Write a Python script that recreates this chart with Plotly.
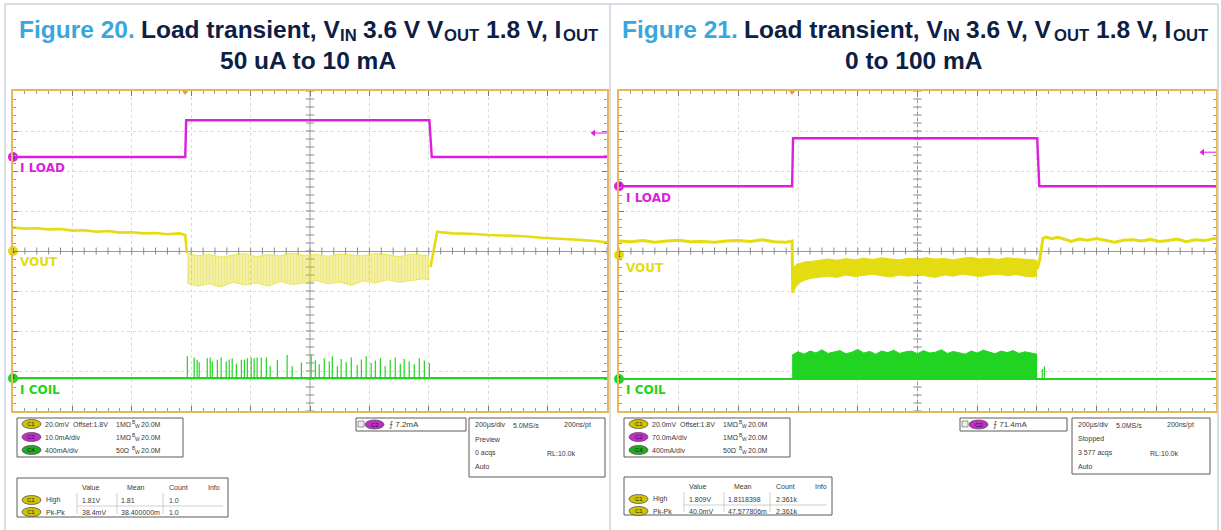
import plotly.graph_objects as go

W, H = 1221, 530

# ---------------- data (time in µs from trigger, level in screen divisions) ----------------
# Figure 20
iload20_t = [-580, 0, 3, 822, 830, 1420]
iload20_v = [2.35, 2.35, 3.27, 3.27, 2.35, 2.35]

vout20_pre_t = [-580, -540, -500, -460, -420, -380, -340, -300, -260, -220, -180, -140, -100, -60, -20, 0, 5]
vout20_pre_v = [0.58, 0.56, 0.57, 0.54, 0.55, 0.51, 0.52, 0.48, 0.50, 0.46, 0.47, 0.44, 0.45, 0.42, 0.44, 0.40, -0.05]
vout20_band_t = [6, 40, 80, 120, 160, 200, 240, 280, 320, 360, 400, 440, 480, 520, 560, 600, 640, 680, 720, 760, 800, 822]
vout20_band_hi = [-0.05, -0.12, -0.08, -0.15, -0.10, -0.06, -0.14, -0.09, -0.12, -0.05, -0.11, -0.08, -0.13, -0.07, -0.10,
                  -0.12, -0.06, -0.09, -0.14, -0.08, -0.10, -0.12]
vout20_band_lo = [-0.80, -0.88, -0.82, -0.90, -0.78, -0.85, -0.80, -0.88, -0.76, -0.84, -0.80, -0.74, -0.82, -0.78, -0.86,
                  -0.75, -0.80, -0.72, -0.78, -0.74, -0.70, -0.72]
vout20_post_t = [826, 840, 848, 900, 960, 1020, 1080, 1140, 1200, 1260, 1320, 1380, 1420]
vout20_post_v = [-0.40, 0.15, 0.48, 0.44, 0.43, 0.40, 0.38, 0.37, 0.33, 0.31, 0.28, 0.25, 0.22]

icoil20_base = -3.18
icoil20_spike_t = [7, 30, 40, 47, 74, 84, 91, 108, 121, 138, 148, 158, 172, 189, 199, 209, 222, 232, 242, 256, 273, 286,
                   310, 343, 360, 391, 424, 438, 451, 468, 485, 495, 512, 525, 542, 559, 579, 593, 609, 626, 640, 657,
                   673, 690, 707, 724, 737, 754, 771, 788, 805, 822]
icoil20_spike_h = [0.55, 0.52, 0.46, 0.40, 0.50, 0.52, 0.42, 0.46, 0.52, 0.42, 0.47, 0.50, 0.36, 0.46, 0.47, 0.50, 0.52,
                   0.50, 0.52, 0.52, 0.52, 0.30, 0.46, 0.58, 0.30, 0.39, 0.58, 0.45, 0.35, 0.50, 0.42, 0.55, 0.30, 0.48,
                   0.40, 0.52, 0.33, 0.47, 0.55, 0.38, 0.44, 0.50, 0.30, 0.46, 0.52, 0.36, 0.48, 0.42, 0.35, 0.50, 0.44, 0.38]

# Figure 21
iload21_t = [-580, 0, 3, 821, 828, 1420]
iload21_v = [1.62, 1.62, 2.82, 2.82, 1.62, 1.62]

vout21_pre_t = [-580, -540, -500, -460, -420, -380, -340, -300, -260, -220, -180, -140, -100, -60, -20, 0]
vout21_pre_v = [0.25, 0.23, 0.26, 0.22, 0.25, 0.27, 0.23, 0.24, 0.22, 0.25, 0.26, 0.24, 0.28, 0.23, 0.22, 0.25]
vout21_band_t = [2, 8, 16, 28, 45, 65, 90, 120, 150, 180, 210, 240, 270, 300, 330, 360, 390, 420, 450, 480, 510, 540,
                 570, 600, 630, 660, 690, 720, 750, 780, 810, 821]
vout21_band_hi = [-0.40, -0.38, -0.33, -0.30, -0.27, -0.26, -0.24, -0.20, -0.23, -0.19, -0.22, -0.18, -0.21, -0.17,
                  -0.20, -0.22, -0.18, -0.21, -0.17, -0.20, -0.19, -0.22, -0.18, -0.16, -0.20, -0.18, -0.21, -0.17,
                  -0.19, -0.20, -0.22, -0.25]
vout21_band_lo = [-1.05, -0.95, -0.85, -0.78, -0.72, -0.68, -0.66, -0.63, -0.66, -0.60, -0.64, -0.61, -0.58, -0.62,
                  -0.65, -0.60, -0.63, -0.59, -0.62, -0.66, -0.60, -0.63, -0.58, -0.61, -0.64, -0.60, -0.58, -0.62,
                  -0.59, -0.63, -0.65, -0.62]
vout21_post_t = [821, 830, 840, 850, 870, 890, 910, 935, 960, 990, 1020, 1050, 1080, 1110, 1140, 1170, 1200, 1230,
                 1260, 1290, 1320, 1350, 1380, 1420]
vout21_post_v = [-0.45, -0.20, 0.32, 0.35, 0.31, 0.34, 0.30, 0.24, 0.30, 0.27, 0.31, 0.26, 0.22, 0.27, 0.28, 0.25,
                 0.29, 0.24, 0.26, 0.30, 0.23, 0.28, 0.26, 0.32]

icoil21_base = -3.2
icoil21_band_t = [0, 20, 40, 60, 80, 100, 120, 140, 160, 180, 200, 220, 240, 260, 280, 300, 320, 340, 360, 380, 400,
                  420, 440, 460, 480, 500, 520, 540, 560, 580, 600, 620, 640, 660, 680, 700, 720, 740, 760, 780, 800, 821]
icoil21_band_top = [-2.60, -2.52, -2.58, -2.50, -2.55, -2.47, -2.56, -2.52, -2.49, -2.57, -2.53, -2.46, -2.55, -2.51,
                    -2.58, -2.50, -2.54, -2.48, -2.56, -2.52, -2.50, -2.57, -2.49, -2.55, -2.53, -2.47, -2.56, -2.51,
                    -2.54, -2.58, -2.50, -2.55, -2.48, -2.53, -2.57, -2.50, -2.54, -2.49, -2.56, -2.52, -2.55, -2.58]
icoil21_spike_t = [838, 845]
icoil21_spike_h = [0.25, 0.32]

trig_level20 = 2.95
trig_level21 = 2.47

# title pieces: (text, kind) kind: "num" blue, "main" navy, "sub" subscript
title20_l1 = [("Figure 20.", "num"), (" Load transient, V", "main"), ("IN", "sub"), (" 3.6 V V", "main"),
              ("OUT", "sub"), (" 1.8 V, I", "main"), ("OUT", "sub")]
title20_l2 = "50 uA to 10 mA"
title21_l1 = [("Figure 21.", "num"), (" Load transient, V", "main"), ("IN", "sub"), (" 3.6 V, V", "main"),
              ("OUT", "sub"), (" 1.8 V, I", "main"), ("OUT", "sub")]
title21_l2 = "0 to 100 mA"

info20 = dict(ch=["20.0mV  Offset:1.8V", "10.0mA/div", "400mA/div"],
              imp=["1MΩ", "1MΩ", "50Ω"], trig="7.2mA",
              tb=["200µs/div", "5.0MS/s", "200ns/pt"], state="Preview", acqs="0 acqs",
              meas=[("High", "1.81V", "1.81", "1.0"), ("Pk-Pk", "38.4mV", "38.400000m", "1.0")])
info21 = dict(ch=["20.0mV  Offset:1.8V", "70.0mA/div", "400mA/div"],
              imp=["1MΩ", "1MΩ", "50Ω"], trig="71.4mA",
              tb=["200µs/div", "5.0MS/s", "200ns/pt"], state="Stopped", acqs="3 577 acqs",
              meas=[("High", "1.809V", "1.8118398", "2.361k"), ("Pk-Pk", "40.0mV", "47.577806m", "2.361k")])

# ---------------- styling ----------------
MAG = "#dc1fdc"
YEL = "#e4dc10"
GRN = "#22d422"
ORANGE = "#e8b65c"
FONT = "Liberation Sans"
NAVY = "#0d2044"
BLUE = "#3aa7dc"

# Arial/Liberation Sans Bold advance widths (1/1000 em) for title layout
BOLD_W = {" ": 278, ",": 278, ".": 278, "0": 556, "1": 556, "2": 556, "3": 556, "4": 556, "5": 556, "6": 556,
          "7": 556, "8": 556, "9": 556, "F": 611, "I": 278, "L": 611, "N": 722, "O": 778, "T": 611, "U": 722,
          "V": 667, "a": 556, "d": 611, "e": 556, "g": 611, "i": 278, "n": 611, "o": 611, "r": 389, "s": 556,
          "t": 333, "u": 611}


def text_w(s, size):
    return sum(BOLD_W.get(c, 556) for c in s) * size / 1000.0


def px(x):
    return x / W


def py(y):
    return 1 - y / H


fig = go.Figure()

panels = [
    dict(xa="x", ya="y", off=0, x0=13, x1=607),
    dict(xa="x2", ya="y2", off=610, x0=619, x1=1216),
]
Y0, Y1 = 91, 411
TMIN, TMAX = -580, 1420
TCEN = 420


def add(tr, p):
    tr.update(xaxis=p["xa"], yaxis=p["ya"], showlegend=False, hoverinfo="skip")
    fig.add_trace(tr)


for i, p in enumerate(panels):
    add(go.Scatter(x=[TMIN + 40 * k for k in range(51)], y=[0] * 51, mode="markers",
                   marker=dict(symbol="line-ns", size=5, line=dict(color="#8a8a8a", width=1))), p)
    add(go.Scatter(x=[TCEN] * 41, y=[-4 + 0.2 * k for k in range(41)], mode="markers",
                   marker=dict(symbol="line-ew", size=6, line=dict(color="#8a8a8a", width=1))), p)

# ---- Figure 20 traces
p = panels[0]
add(go.Scatter(x=iload20_t, y=iload20_v, mode="lines", line=dict(color=MAG, width=2.4)), p)
add(go.Scatter(x=vout20_pre_t, y=vout20_pre_v, mode="lines", line=dict(color=YEL, width=2.6)), p)
add(go.Scatter(x=vout20_band_t, y=vout20_band_lo, mode="lines", line=dict(color=YEL, width=0.6)), p)
add(go.Scatter(x=vout20_band_t, y=vout20_band_hi, mode="lines", line=dict(color=YEL, width=0.6), fill="tonexty",
               fillcolor="rgba(228,220,16,0.45)",
               fillpattern=dict(shape="|", size=3, solidity=0.8, fgcolor="#dcd200", bgcolor="rgba(0,0,0,0)")), p)
add(go.Scatter(x=vout20_post_t, y=vout20_post_v, mode="lines", line=dict(color=YEL, width=2.6)), p)
add(go.Scatter(x=[TMIN, TMAX], y=[icoil20_base, icoil20_base], mode="lines", line=dict(color=GRN, width=2.2)), p)
sx, sy = [], []
for t, h in zip(icoil20_spike_t, icoil20_spike_h):
    sx += [t, t, None]
    sy += [icoil20_base, icoil20_base + h, None]
add(go.Scatter(x=sx, y=sy, mode="lines", line=dict(color=GRN, width=1.2)), p)

# ---- Figure 21 traces
p = panels[1]
add(go.Scatter(x=iload21_t, y=iload21_v, mode="lines", line=dict(color=MAG, width=2.4)), p)
add(go.Scatter(x=vout21_pre_t + [vout21_band_t[0]], y=vout21_pre_v + [vout21_band_lo[0]], mode="lines",
               line=dict(color=YEL, width=3)), p)
add(go.Scatter(x=vout21_band_t, y=vout21_band_lo, mode="lines", line=dict(color=YEL, width=1)), p)
add(go.Scatter(x=vout21_band_t, y=vout21_band_hi, mode="lines", line=dict(color=YEL, width=1), fill="tonexty",
               fillcolor=YEL), p)
add(go.Scatter(x=vout21_post_t, y=vout21_post_v, mode="lines", line=dict(color=YEL, width=3)), p)
add(go.Scatter(x=[TMIN, TMAX], y=[icoil21_base, icoil21_base], mode="lines", line=dict(color=GRN, width=2.2)), p)
add(go.Scatter(x=icoil21_band_t, y=[icoil21_base] * len(icoil21_band_t), mode="lines", line=dict(color=GRN, width=0)), p)
add(go.Scatter(x=icoil21_band_t, y=icoil21_band_top, mode="lines", line=dict(color=GRN, width=1), fill="tonexty",
               fillcolor=GRN), p)
sx, sy = [], []
for t, h in zip(icoil21_spike_t, icoil21_spike_h):
    sx += [t, t, None]
    sy += [icoil21_base, icoil21_base + h, None]
add(go.Scatter(x=sx, y=sy, mode="lines", line=dict(color=GRN, width=1.2)), p)

# ---- channel markers, trigger markers
for p, lv, tl in [(panels[0], (2.35, 0.0, icoil20_base), trig_level20),
                  (panels[1], (1.62, -0.1, icoil21_base), trig_level21)]:
    add(go.Scatter(x=[TMIN] * 3, y=list(lv), mode="markers+text", text=["2", "1", "4"],
                   textfont=dict(size=7, color="#333", family=FONT), cliponaxis=False,
                   marker=dict(size=10, color=[MAG, YEL, GRN])), p)
    add(go.Scatter(x=[0], y=[4], mode="markers", cliponaxis=False,
                   marker=dict(symbol="triangle-down", size=8, color="#e0a030")), p)
    add(go.Scatter(x=[1372, TMAX], y=[tl, tl], mode="lines", line=dict(color=MAG, width=1)), p)
    add(go.Scatter(x=[1375], y=[tl], mode="markers", marker=dict(symbol="triangle-left", size=6, color=MAG)), p)

# ---------------- axes ----------------
layout_axes = {}
for i, p in enumerate(panels):
    suf = "" if i == 0 else "2"
    layout_axes["xaxis" + suf] = dict(
        domain=[px(p["x0"]), px(p["x1"])], range=[TMIN, TMAX], anchor="y" + suf,
        showgrid=True, gridcolor="#dadada", griddash="dot", gridwidth=1,
        tick0=20, dtick=200, ticks="inside", ticklen=5, tickcolor="#7a7a7a",
        showticklabels=False, showline=True, linecolor=ORANGE, linewidth=2, mirror="ticks",
        zeroline=False, fixedrange=True,
        minor=dict(ticks="inside", ticklen=3, dtick=40, tick0=20, tickcolor="#9a9a9a", showgrid=False))
    layout_axes["yaxis" + suf] = dict(
        domain=[py(Y1), py(Y0)], range=[-4, 4], anchor="x" + suf,
        showgrid=True, gridcolor="#dadada", griddash="dot", gridwidth=1,
        tick0=0, dtick=1, ticks="inside", ticklen=5, tickcolor="#7a7a7a",
        showticklabels=False, showline=True, linecolor=ORANGE, linewidth=2, mirror="ticks",
        zeroline=True, zerolinecolor="#9a9a9a", zerolinewidth=1, fixedrange=True,
        minor=dict(ticks="inside", ticklen=3, dtick=0.2, tick0=0, tickcolor="#9a9a9a", showgrid=False))

shapes = []
annotations = []

# page frame
BC = "#c8d2db"
for (a, b, c, d) in [(5, 4, 1218, 4), (5, 4, 5, 530), (610, 4, 610, 530), (1218, 4, 1218, 530)]:
    shapes.append(dict(type="line", xref="paper", yref="paper", x0=px(a), y0=py(b), x1=px(c), y1=py(d),
                       line=dict(color=BC, width=1.5)))

for i, p in enumerate(panels):
    suf = "" if i == 0 else "2"
    shapes.append(dict(type="line", xref="x" + suf, yref="y" + suf, x0=TCEN, x1=TCEN, y0=-4, y1=4,
                       line=dict(color="#9a9a9a", width=1), layer="below"))

# titles (line 1 laid out piecewise so subscripts are plain texts)
TF = 24.5
SF = TF * 0.68
for cx, pieces, l2 in [(307.5, title20_l1, title20_l2), (914, title21_l1, title21_l2)]:
    widths = [text_w(s, SF if k == "sub" else TF) for s, k in pieces]
    x = cx - sum(widths) / 2
    for (s, k), w in zip(pieces, widths):
        lead = len(s) - len(s.lstrip(" "))
        xs = x + lead * 278 * TF / 1000.0
        if k == "sub":
            ys, size, col = 35.8, SF, NAVY
        else:
            ys, size, col = 30, TF, BLUE if k == "num" else NAVY
        annotations.append(dict(xref="paper", yref="paper", x=px(xs), y=py(ys), xanchor="left", yanchor="middle",
                                showarrow=False, text=f"<b>{s.strip()}</b>", borderpad=0,
                                font=dict(family=FONT, size=size, color=col)))
        x += w
    annotations.append(dict(xref="paper", yref="paper", x=px(cx), y=py(60.5), xanchor="center", yanchor="middle",
                            showarrow=False, text=f"<b>{l2}</b>", borderpad=0,
                            font=dict(family=FONT, size=TF, color=NAVY)))

# channel labels
for p, ys in [(panels[0], (168, 262, 390)), (panels[1], (198, 268, 390))]:
    for t_, yy, col in zip(["I LOAD", "VOUT", "I COIL"], ys, [MAG, YEL, GRN]):
        annotations.append(dict(xref="paper", yref="paper", x=px(p["x0"] + 5), y=py(yy), xanchor="left",
                                yanchor="middle", showarrow=False, text=f"<b>{t_}</b>",
                                font=dict(family="DejaVu Sans", size=12, color=col)))


def box(x0, y0, x1, y1):
    shapes.append(dict(type="rect", xref="paper", yref="paper", x0=px(x0), y0=py(y0), x1=px(x1), y1=py(y1),
                       line=dict(color="#5a5a5a", width=1), fillcolor="white"))


def txt(x, y, s, size=7, color="#3a3a3a", anchor="left"):
    annotations.append(dict(xref="paper", yref="paper", x=px(x), y=py(y), xanchor=anchor, yanchor="middle",
                            showarrow=False, text=s, font=dict(family=FONT, size=size, color=color)))


def pill(x, y, col, label):
    shapes.append(dict(type="circle", xref="paper", yref="paper", x0=px(x), x1=px(x + 19), y0=py(y - 4.5),
                       y1=py(y + 4.5), fillcolor=col, line=dict(color="#555", width=0.8)))
    txt(x + 9.5, y, label, size=6, color="#222", anchor="center")


def bw(x, y):
    txt(x, y - 2, "B", size=5)
    txt(x + 3, y + 2, "W", size=5)
    txt(x + 9, y, "20.0M")


PILLC = ["#cfc400", "#c52cc5", "#1faa1f"]
for info, off, bA, bB, bC, bD in [
        (info20, 0, (17, 418, 183, 457), (356, 418, 466, 431), (469, 418, 605, 477), (17, 478, 228, 517)),
        (info21, 610, (624, 418, 790, 457), (960, 418, 1067, 431), (1072, 418, 1210, 474), (624, 477, 832, 515))]:
    box(*bA)
    rows = [424, 437, 450]
    for k in range(3):
        pill(bA[0] + 5, rows[k], PILLC[k], ["C1", "C2", "C4"][k])
        txt(bA[0] + 26, rows[k], info["ch"][k])
        txt(bA[0] + 97, rows[k], info["imp"][k])
        bw(bA[0] + 113, rows[k])
    box(*bB)
    shapes.append(dict(type="rect", xref="paper", yref="paper", x0=px(bB[0] + 2), x1=px(bB[0] + 8),
                       y0=py(bB[1] + 9), y1=py(bB[1] + 3), line=dict(color="#555", width=0.6), fillcolor="#eee"))
    pill(bB[0] + 9, (bB[1] + bB[3]) / 2, PILLC[1], "C2")
    txt(bB[0] + 31, (bB[1] + bB[3]) / 2, "⨍ " + info["trig"], size=8)
    box(*bC)
    cy = [425, 439, 453, 466]
    txt(bC[0] + 4, cy[0], info["tb"][0])
    txt(bC[0] + 42, cy[0], info["tb"][1])
    txt(bC[0] + 93, cy[0], info["tb"][2])
    txt(bC[0] + 4, cy[1], info["state"])
    txt(bC[0] + 4, cy[2], info["acqs"])
    txt(bC[0] + 76, cy[2], "RL:10.0k")
    txt(bC[0] + 4, cy[3], "Auto")
    box(*bD)
    dx = bD[0]
    txt(dx + 63, bD[1] + 9, "Value")
    txt(dx + 108, bD[1] + 9, "Mean")
    txt(dx + 150, bD[1] + 9, "Count")
    txt(dx + 189, bD[1] + 9, "Info")
    for r, (nm, v, m, c) in enumerate(info["meas"]):
        yy = bD[1] + 22 + 12 * r
        pill(dx + 5, yy, PILLC[0], "C1")
        txt(dx + 27, yy, nm)
        txt(dx + 63, yy, v)
        txt(dx + 102, yy, m)
        txt(dx + 150, yy, c)
    for xx in (dx + 60, dx + 100, dx + 146):
        shapes.append(dict(type="line", xref="paper", yref="paper", x0=px(xx), x1=px(xx), y0=py(bD[1] + 15),
                           y1=py(bD[3] - 3), line=dict(color="#b0b0b0", width=0.6)))
    shapes.append(dict(type="line", xref="paper", yref="paper", x0=px(dx + 60), x1=px(bD[2] - 5),
                       y0=py(bD[1] + 28), y1=py(bD[1] + 28), line=dict(color="#b0b0b0", width=0.6)))

fig.update_layout(width=W, height=H, margin=dict(l=0, r=0, t=0, b=0), paper_bgcolor="white",
                  plot_bgcolor="white", shapes=shapes, annotations=annotations, showlegend=False,
                  **layout_axes)

fig.write_html("out.html", config={"displayModeBar": False},
               post_script="document.body.style.margin='0';document.body.style.overflow='hidden';")
